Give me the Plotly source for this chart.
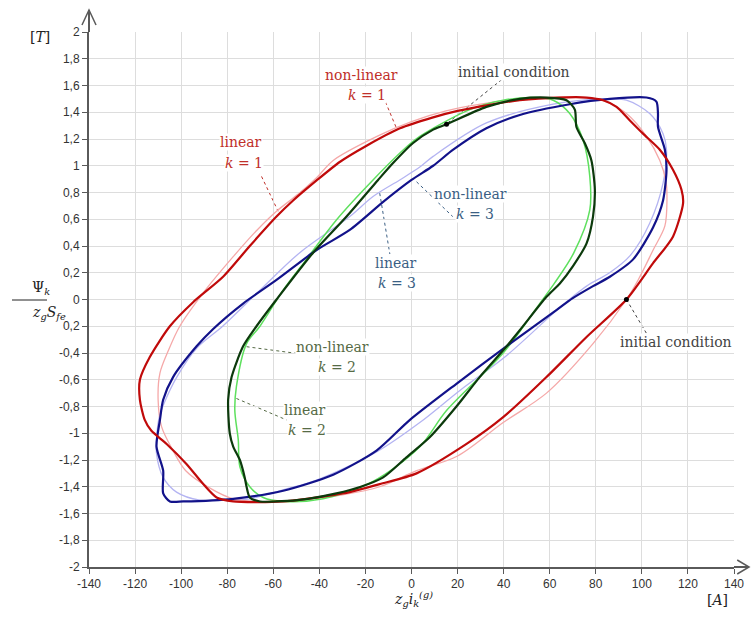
import plotly.graph_objects as go

# ---------------- data ----------------
# k = 1, non-linear
k1_nl_x = [93.3, 104.8, 113.5, 117.9, 117.2, 113.5, 107.8, 100.5, 94.7, 89.0, 83.2, 76.0, 64.4, 47.0, 32.0, 20.0, 9.0, -5.0,
           -19.5, -31.0, -41.2, -51.4, -58.6, -70.2, -81.8, -94.8, -104.9, -113.6, -117.9, -117.9, -115.8, -113.0, -106.3,
           -97.7, -90.4, -84.6, -77.4, -67.3, -55.7, -45.6, -26.8, -13.8, 2.2, 23.9, 39.8, 58.6, 76.0, 93.3]
k1_nl_y = [0.0, 0.27, 0.47, 0.72, 0.82, 0.97, 1.12, 1.24, 1.34, 1.44, 1.49, 1.51, 1.51, 1.49, 1.45, 1.41, 1.36, 1.28,
           1.15, 1.03, 0.89, 0.74, 0.62, 0.40, 0.17, -0.02, -0.2, -0.43, -0.6, -0.75, -0.9, -0.98, -1.08,
           -1.23, -1.38, -1.48, -1.51, -1.515, -1.51, -1.49, -1.44, -1.38, -1.30, -1.08, -0.88, -0.58, -0.28, 0.0]
# k = 1, linear
k1_l_x = [93.3, 98.5, 104.9, 110.0, 110.9, 110.5, 107.8, 102.0, 93.3, 84.6, 76.0, 64.0, 47.0, 30.0, 15.0, 0.0, -15.0,
          -34.0, -41.2, -49.0, -58.6, -67.0, -77.4, -90.4, -100.6, -105.5, -109.2, -110.0, -108.5, -103.5, -98.0,
          -87.5, -77.4, -67.0, -50.0, -30.0, -13.8, 2.2, 20.0, 39.8, 58.6, 78.8, 93.3]
k1_l_y = [0.0, 0.15, 0.37, 0.55, 0.75, 0.88, 1.04, 1.22, 1.39, 1.48, 1.51, 1.515, 1.50, 1.46, 1.41, 1.33, 1.22,
          1.04, 0.91, 0.79, 0.66, 0.52, 0.32, 0.05, -0.2, -0.38, -0.55, -0.75, -0.95, -1.13, -1.28,
          -1.41, -1.49, -1.51, -1.50, -1.46, -1.40, -1.28, -1.17, -0.92, -0.70, -0.33, 0.0]
# k = 2, non-linear
k2_nl_x = [15.2, 32.5, 47.0, 58.6, 67.3, 70.9, 71.6, 75.2, 78.1, 79.6, 78.8, 76.0, 70.1, 64.4, 58.6, 47.0, 39.8, 29.6,
           19.5, 7.9, -2.2, -12.3, -22.0, -32.6, -45.0, -58.6, -65.8, -70.2, -71.6, -72.4, -74.5, -77.4, -78.9, -79.6,
           -78.1, -73.1, -67.3, -58.6, -42.7, -28.2, -14.5, -8.0, 0.7, 9.4, 15.2]
k2_nl_y = [1.31, 1.44, 1.50, 1.51, 1.49, 1.42, 1.29, 1.17, 1.04, 0.82, 0.62, 0.42, 0.25, 0.12, 0.02, -0.23, -0.38, -0.58,
           -0.80, -1.03, -1.18, -1.33, -1.40, -1.45, -1.49, -1.51, -1.51, -1.48, -1.40, -1.33, -1.20, -1.10, -1.0, -0.75,
           -0.58, -0.35, -0.20, 0.0, 0.35, 0.62, 0.894, 1.02, 1.17, 1.27, 1.31]
# k = 2, linear
k2_l_x = [3.6, 25.3, 39.8, 52.8, 61.5, 68.7, 74.5, 77.4, 77.4, 70.5, 62.0, 55.7, 39.8, 15.2, 3.6, -16.7, -38.4, -55.7,
          -64.4, -70.2, -74.5, -75.2, -76.7, -76.0, -71.6, -65.8, -55.7, -45.6, -32.6, -16.7, -2.2, 3.6]
k2_l_y = [1.22, 1.42, 1.49, 1.51, 1.49, 1.39, 1.19, 0.92, 0.67, 0.35, 0.12, -0.03, -0.40, -0.83, -1.10, -1.36, -1.49, -1.51,
          -1.48, -1.40, -1.25, -1.05, -0.83, -0.65, -0.33, -0.20, 0.07, 0.30, 0.595, 0.894, 1.14, 1.22]
# k = 3, non-linear
k3_nl_x = [96.2, 104.9, 109.2, 110.7, 110.0, 107.0, 107.0, 106.3, 102.0, 86.1, 68.7, 47.0, 32.5, 18.1, 9.4, 0.0, -12.3,
           -26.8, -41.2, -58.6, -73.1, -86.1, -93.3, -103.5, -107.8, -109.2, -110.7, -107.8, -107.8, -104.9, -99.1,
           -77.4, -55.7, -34.0, -15.2, -0.7, 19.5, 41.2, 62.9, 70.0, 78.8, 86.1, 96.2]
k3_nl_y = [0.30, 0.54, 0.74, 0.97, 1.12, 1.29, 1.39, 1.48, 1.51, 1.50, 1.46, 1.38, 1.28, 1.12, 1.0, 0.894, 0.73,
           0.52, 0.37, 0.146, -0.03, -0.22, -0.35, -0.58, -0.75, -0.90, -1.10, -1.28, -1.45, -1.51, -1.51,
           -1.49, -1.43, -1.31, -1.13, -0.90, -0.63, -0.35, -0.08, 0.01, 0.10, 0.17, 0.30]
# k = 3, linear
k3_l_x = [95.0, 103.4, 109.2, 110.7, 109.2, 103.4, 93.3, 83.2, 61.5, 32.5, 9.4, 3.6, -5.1, -16.7, -26.8, -48.5, -65.8,
          -82.0, -93.0, -101.9, -107.5, -109.5, -110.5, -110.7, -107.8, -102.0, -91.9, -81.8, -70.2, -55.0, -41.2,
          -15.2, 3.6, 21.0, 41.2, 64.4, 76.0, 86.0, 95.0]
k3_l_y = [0.33, 0.57, 0.87, 1.12, 1.24, 1.39, 1.49, 1.50, 1.46, 1.32, 1.07, 0.99, 0.894, 0.77, 0.62, 0.35, 0.07,
          -0.20, -0.36, -0.58, -0.78, -0.88, -1.0, -1.15, -1.33, -1.44, -1.50, -1.50, -1.49, -1.42, -1.35,
          -1.14, -0.92, -0.68, -0.42, -0.06, 0.10, 0.20, 0.33]

# initial-condition points
ic_x = [15.2, 93.3]
ic_y = [1.31, 0.0]

x_ticks = [-140, -120, -100, -80, -60, -40, -20, 0, 20, 40, 60, 80, 100, 120, 140]
y_ticks = [2, 1.8, 1.6, 1.4, 1.2, 1, 0.8, 0.6, 0.4, 0.2, 0, -0.2, -0.4, -0.6, -0.8, -1, -1.2, -1.4, -1.6, -1.8, -2]
y_tick_text = ["2", "1,8", "1,6", "1,4", "1,2", "1", "0,8", "0,6", "0,4", "0,2", "0", "0,2", "-0,4", "-0,6",
               "-0,8", "-1", "-1,2", "-1,4", "-1,6", "-1,8", "-2"]

# ---------------- figure ----------------
fig = go.Figure()

def curve(x, y, color, width, smooth):
    fig.add_trace(go.Scatter(x=x, y=y, mode="lines", hoverinfo="skip",
                             line=dict(color=color, width=width, shape="spline", smoothing=smooth)))

curve(k3_l_x, k3_l_y, "#b4b4f2", 1.3, 0.9)
curve(k1_l_x, k1_l_y, "#f5a8a8", 1.3, 0.9)
curve(k2_l_x, k2_l_y, "#5ee05e", 1.5, 0.9)
curve(k3_nl_x, k3_nl_y, "#12128a", 2.2, 0.7)
curve(k1_nl_x, k1_nl_y, "#c00a0a", 2.2, 0.7)
curve(k2_nl_x, k2_nl_y, "#0c3a0c", 2.2, 0.7)

fig.add_trace(go.Scatter(x=ic_x, y=ic_y, mode="markers", hoverinfo="skip",
                         marker=dict(color="black", size=5)))

SERIF = "DejaVu Serif"
RED = "#c0302a"
BLUE = "#3b5f84"
GREEN = "#566b46"
GRAY = "#444444"

labels = [
    ("non-linear", -21.5, 1.680, RED), ("<i>k</i> = 1", -19.4, 1.531, RED),
    ("linear", -74.1, 1.174, RED), ("<i>k</i> = 1", -72.8, 1.022, RED),
    ("non-linear", 25.7, 0.790, BLUE), ("<i>k</i> = 3", 27.5, 0.640, BLUE),
    ("linear", -6.8, 0.275, BLUE), ("<i>k</i> = 3", -6.4, 0.121, BLUE),
    ("non-linear", -34.4, -0.353, GREEN), ("<i>k</i> = 2", -32.4, -0.503, GREEN),
    ("linear", -46.1, -0.827, GREEN), ("<i>k</i> = 2", -45.4, -0.977, GREEN),
    ("initial condition", 44.4, 1.698, GRAY),
    ("initial condition", 115.0, -0.316, GRAY),
]
for txt, lx, ly, col in labels:
    fig.add_annotation(x=lx, y=ly, xref="x", yref="y", text=txt, showarrow=False,
                       font=dict(family=SERIF, size=14, color=col), bgcolor="white", borderpad=0)

leaders = [
    (-12.3, 1.518, -6.5, 1.28, RED),
    (-65.1, 0.92, -57.9, 0.66, RED),
    (39.1, 1.643, 15.2, 1.313, GRAY),
    (2.2, 0.88, 17.9, 0.62, BLUE),
    (-13.8, 0.795, -9.4, 0.34, BLUE),
    (-71.6, -0.353, -49.9, -0.403, GREEN),
    (-76.0, -0.74, -54.3, -0.90, GREEN),
    (93.3, 0.0, 102.0, -0.253, GRAY),
]
for x0, y0, x1, y1, col in leaders:
    fig.add_shape(type="line", xref="x", yref="y", x0=x0, y0=y0, x1=x1, y1=y1,
                  line=dict(color=col, width=1, dash="dot"), layer="below")

# axis arrows (paper coordinates)
AX = "#5a5a5a"
fig.add_shape(type="line", xref="paper", yref="paper", x0=0, y0=1, x1=0, y1=1.041, line=dict(color=AX, width=2))
fig.add_shape(type="path", xref="paper", yref="paper",
              path="M -0.0109 1.0131 L 0 1.0411 L 0.0109 1.0131", line=dict(color=AX, width=1.5))
fig.add_shape(type="line", xref="paper", yref="paper", x0=1, y0=0, x1=1.0233, y1=0, line=dict(color=AX, width=2))
fig.add_shape(type="path", xref="paper", yref="paper",
              path="M 1.005 0.0131 L 1.0233 0 L 1.005 -0.0131", line=dict(color=AX, width=1.5))

# axis titles
fig.add_annotation(xref="paper", yref="paper", x=(28 - 89) / 645, y=(567 - 27) / 535, text="[<i>T</i>]",
                   showarrow=False, font=dict(family=SERIF, size=14, color="#222"))
fig.add_annotation(xref="paper", yref="paper", x=(30 - 89) / 645, y=(567 - 288) / 535, text="Ψ<sub><i>k</i></sub>",
                   showarrow=False, font=dict(family=SERIF, size=14, color="#222"))
fig.add_shape(type="line", xref="paper", yref="paper", x0=(12 - 89) / 645, x1=(47 - 89) / 645,
              y0=(567 - 300) / 535, y1=(567 - 300) / 535, line=dict(color="#222", width=1))
fig.add_annotation(xref="paper", yref="paper", x=(30 - 89) / 645, y=(567 - 313) / 535,
                   text="<i>z<sub>g</sub>S<sub>fe</sub></i>",
                   showarrow=False, font=dict(family=SERIF, size=14, color="#222"))
fig.add_annotation(xref="paper", yref="paper", x=(413 - 89) / 645, y=(567 - 611) / 535,
                   text="<i>z<sub>g</sub>i<sub>k</sub><sup>(g)</sup></i>",
                   showarrow=False, font=dict(family=SERIF, size=14, color="#222"))
fig.add_annotation(xref="paper", yref="paper", x=(730 - 89) / 645, y=(567 - 610) / 535, text="[<i>A</i>]",
                   showarrow=False, font=dict(family=SERIF, size=14, color="#222"))

fig.update_layout(
    width=751, height=625,
    margin=dict(l=89, r=17, t=32, b=58, autoexpand=False),
    paper_bgcolor="white", plot_bgcolor="white",
    showlegend=False,
    font=dict(family="Liberation Sans", size=12, color="#333"),
)
fig.update_xaxes(range=[-140, 140], tickvals=x_ticks, ticktext=[str(v) for v in x_ticks],
                 showgrid=True, gridcolor="#dddddd", gridwidth=1, zeroline=False,
                 showline=True, linecolor=AX, linewidth=2, ticks="outside", ticklen=5, tickcolor=AX,
                 tickfont=dict(family="Liberation Sans", size=12, color="#333"))
fig.update_yaxes(range=[-2, 2], tickvals=y_ticks, ticktext=y_tick_text,
                 showgrid=True, gridcolor="#dddddd", gridwidth=1, zeroline=False,
                 showline=True, linecolor=AX, linewidth=2, ticks="outside", ticklen=5, tickcolor=AX,
                 tickfont=dict(family="Liberation Sans", size=12, color="#333"))

fig.write_html("out.html")
